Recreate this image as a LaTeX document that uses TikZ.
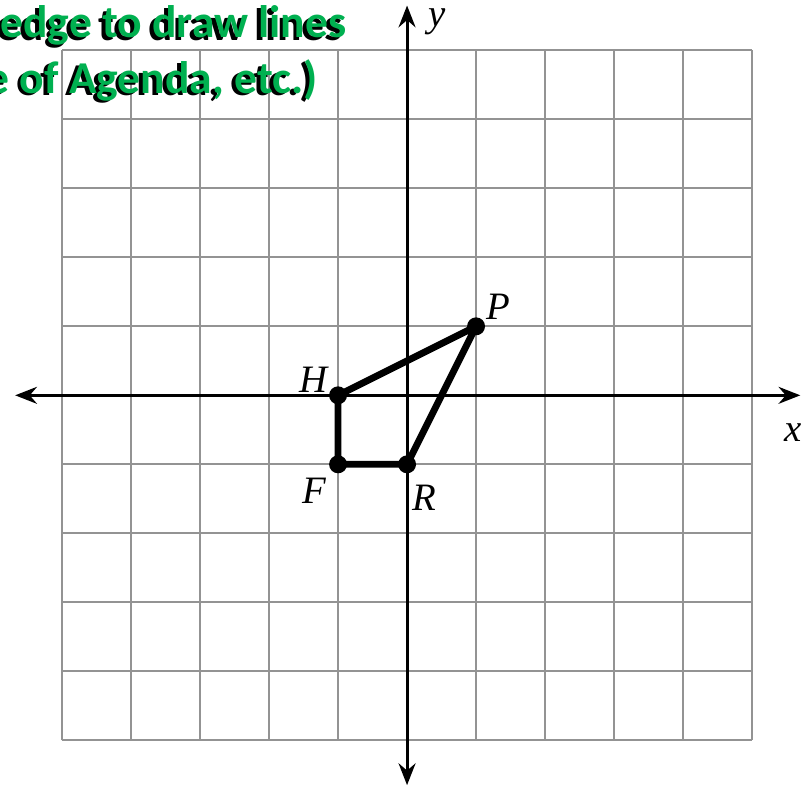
\documentclass[tikz,border=0pt]{standalone}
\usepackage{fontspec}
\setmainfont{Liberation Serif}
\newfontfamily\notefont{Carlito}
\usepackage{tikz}
\usetikzlibrary{arrows.meta}
\definecolor{notegreen}{RGB}{0,176,80}

\begin{document}
\begin{tikzpicture}[>={Stealth[length=9pt,width=7pt,inset=3pt]}, x=1cm, y=1cm,
    pt/.style={circle, fill, inner sep=0pt, minimum size=7.4pt},
    lab/.style={inner sep=0pt, font=\fontsize{16}{16}\selectfont\itshape}]
    \useasboundingbox (-5.9,-5.74) rectangle (5.84,5.73);

    % 网格
    \draw[gray!85, line width=0.8pt] (-5,-5) grid (5,5);

    % 坐标轴
    \draw[<->, line width=1.2pt] (-5.68,0) -- (5.70,0);
    \draw[<->, line width=1.2pt] (0,-5.65) -- (0,5.65);
    \node[lab] (xlab) at (5.59,-0.54) {x};
    \node[lab] (ylab) at (0.43,5.42) {y};

    % 四边形的顶点
    \node[pt] (H) at (-1,0) {};
    \node[pt] (P) at (1,1) {};
    \node[pt] (R) at (0,-1) {};
    \node[pt] (F) at (-1,-1) {};
    \draw[line width=2.8pt, line join=round] (H.center) -- (P.center) -- (R.center) -- (F.center) -- cycle;
    \node[lab] (Plab) at (1.33,1.28) {P};
    \node[lab] (Hlab) at (-1.36,0.22) {H};
    \node[lab] (Flab) at (-1.35,-1.38) {F};
    \node[lab] (Rlab) at (0.25,-1.48) {R};

    % 绿色提示文字（带阴影）
    \foreach \c/\dx/\dy in {black/-1.6pt/-1pt, notegreen/0pt/0pt} {
        \node[anchor=west, inner sep=0pt, text=\c, font=\notefont\bfseries\fontsize{18.8}{18.8}\selectfont]
            at ([xshift=\dx, yshift=\dy]-5.9,5.36) {edge to draw lines};
        \node[anchor=west, inner sep=0pt, text=\c, font=\notefont\bfseries\fontsize{18.8}{18.8}\selectfont]
            at ([xshift=\dx, yshift=\dy]-6.1,4.57) {e of Agenda, etc.)};
    }
\end{tikzpicture}
\end{document}
